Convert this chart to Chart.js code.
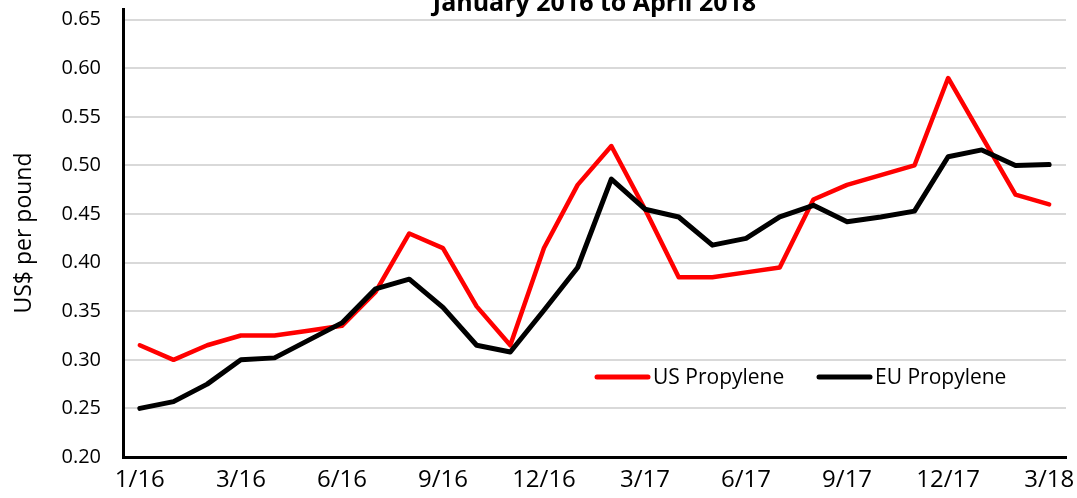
<!DOCTYPE html>
<html>
<head>
<meta charset="utf-8">
<title>US and EU Propylene</title>
<script src="https://cdn.jsdelivr.net/npm/chart.js@4.4.1/dist/chart.umd.min.js"></script>
<style>
  html, body { margin: 0; padding: 0; background: #fff; }
  #wrap { width: 1077px; height: 498px; position: relative; overflow: hidden; }
</style>
</head>
<body>
<div id="wrap"><canvas id="propChart" width="1077" height="498"></canvas></div>
<script>
/* -----------------------
   Dados (jan/2016 a abr/2018, mensal)
   ----------------------- */
const months = [
  '1/16','2/16','3/16','4/16','5/16','6/16','7/16','8/16','9/16','10/16','11/16','12/16',
  '1/17','2/17','3/17','4/17','5/17','6/17','7/17','8/17','9/17','10/17','11/17','12/17',
  '1/18','2/18','3/18','4/18'
];

// rótulos do eixo x como aparecem no original (um a cada 3 pontos)
const tickLabels = [
  '1/16','','','3/16','','','6/16','','','9/16','','','12/16','','',
  '3/17','','','6/17','','','9/17','','','12/17','','','3/18'
];

const usPropylene = [
  0.315, 0.300, 0.315, 0.325, 0.325, 0.330, 0.335, 0.370, 0.430, 0.415, 0.355, 0.315,
  0.415, 0.480, 0.520, 0.455, 0.385, 0.385, 0.390, 0.395, 0.465, 0.480, 0.490, 0.500,
  0.590, 0.530, 0.470, 0.460
];

const euPropylene = [
  0.250, 0.257, 0.275, 0.300, 0.302, 0.320, 0.338, 0.373, 0.383, 0.354, 0.315, 0.308,
  0.351, 0.395, 0.486, 0.455, 0.447, 0.418, 0.425, 0.447, 0.459, 0.442, 0.447, 0.453,
  0.509, 0.516, 0.500, 0.501
];

const seriesNames = ['US Propylene', 'EU Propylene'];
const seriesColors = ['#ff0000', '#000000'];

/* -----------------------
   Legenda dentro da área do gráfico
   ----------------------- */
const legendInside = {
  id: 'legendInside',
  afterDatasetsDraw(chart){
    const { ctx, chartArea } = chart;
    const y = chartArea.bottom - 80;
    let x = chartArea.left + 471;
    ctx.save();
    ctx.font = "21px 'Open Sans', sans-serif";
    ctx.textBaseline = 'middle';
    ctx.lineCap = 'round';
    chart.data.datasets.forEach(ds => {
      ctx.strokeStyle = ds.borderColor;
      ctx.lineWidth = 5;
      ctx.beginPath();
      ctx.moveTo(x + 3, y);
      ctx.lineTo(x + 54, y);
      ctx.stroke();
      ctx.fillStyle = '#000';
      ctx.fillText(ds.label, x + 59, y + 1);
      x += 222;
    });
    ctx.restore();
  }
};

Chart.defaults.font.family = "'Open Sans', sans-serif";
Chart.defaults.color = '#000';

const ctx = document.getElementById('propChart').getContext('2d');
const chart = new Chart(ctx, {
  type: 'line',
  data: {
    labels: months,
    datasets: [
      {
        label: seriesNames[0],
        data: usPropylene,
        borderColor: seriesColors[0],
        backgroundColor: seriesColors[0],
        borderWidth: 4.5,
        pointRadius: 0,
        tension: 0,
        borderJoinStyle: 'round',
        borderCapStyle: 'round',
        fill: false,
        order: 2
      },
      {
        label: seriesNames[1],
        data: euPropylene,
        borderColor: seriesColors[1],
        backgroundColor: seriesColors[1],
        borderWidth: 5,
        pointRadius: 0,
        tension: 0,
        borderJoinStyle: 'round',
        borderCapStyle: 'round',
        fill: false,
        order: 1
      }
    ]
  },
  options: {
    responsive: false,
    animation: false,
    devicePixelRatio: 1,
    layout: { padding: { top: 0, right: 11, bottom: 0, left: 0 } },
    plugins: {
      legend: { display: false },
      tooltip: { enabled: false },
      title: {
        display: true,
        text: 'January 2016 to April 2018',
        fullSize: false,
        font: { size: 25, weight: 'bold', lineHeight: 0.32 },
        padding: { top: 0, bottom: 1 }
      }
    },
    scales: {
      x: {
        offset: true,
        grid: { display: false, drawTicks: false },
        border: { display: true, color: '#000', width: 3 },
        ticks: {
          autoSkip: false,
          maxRotation: 0,
          padding: 9,
          font: { size: 24 },
          callback: (v, i) => tickLabels[i]
        },
        afterFit: s => { s.height = 41; s.paddingLeft = 0; s.paddingRight = 0; }
      },
      y: {
        min: 0.2,
        max: 0.661,
        grid: { color: '#d9d9d9', lineWidth: 2, drawTicks: false },
        border: { display: true, color: '#000', width: 3 },
        ticks: {
          stepSize: 0.05,
          includeBounds: false,
          padding: 22,
          font: { size: 20 },
          callback: v => v.toFixed(2)
        },
        title: {
          display: true,
          text: 'US$ per pound',
          font: { size: 23 },
          padding: { top: 11, bottom: 0 }
        },
        afterFit: s => { s.width = 123; s.paddingTop = 0; s.paddingBottom = 0; }
      }
    }
  },
  plugins: [legendInside]
});
</script>
</body>
</html>
